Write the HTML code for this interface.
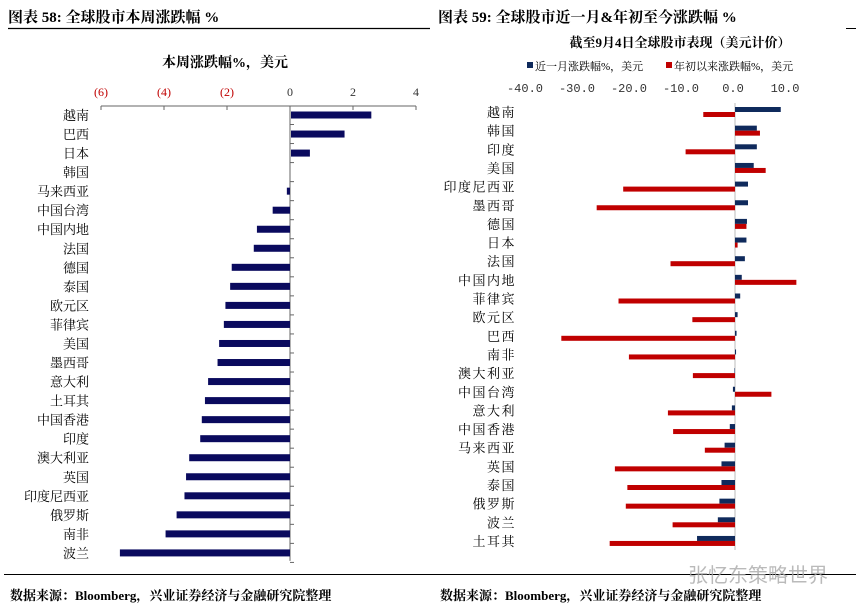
<!DOCTYPE html>
<html><head><meta charset="utf-8"><style>
body{margin:0;background:#fff;}
svg{display:block;font-family:"Liberation Serif","Noto Serif CJK SC",serif;}
</style></head><body>
<svg id="s" width="861" height="611" viewBox="0 0 861 611">
<text x="8" y="22" font-size="15" font-weight="bold">图表 58:  全球股市本周涨跌幅  %</text>
<line x1="8" y1="28.5" x2="430" y2="28.5" stroke="#000" stroke-width="1.2"/>
<text x="438" y="22" font-size="15" font-weight="bold">图表 59:  全球股市近一月&amp;年初至今涨跌幅  %</text>
<line x1="846" y1="28.5" x2="856" y2="28.5" stroke="#000"/>
<text x="225" y="67" font-size="14" font-weight="bold" text-anchor="middle">本周涨跌幅%，美元</text>
<text x="680" y="47" font-size="13" font-weight="bold" text-anchor="middle">截至9月4日全球股市表现（美元计价）</text>
<rect x="527" y="62" width="6" height="6" fill="#0f2a5c"/>
<text x="535" y="70" font-size="11">近一月涨跌幅%，美元</text>
<rect x="666" y="62" width="6" height="6" fill="#c00000"/>
<text x="674" y="70" font-size="11">年初以来涨跌幅%，美元</text>
<line x1="4" y1="574.5" x2="856" y2="574.5" stroke="#000" stroke-width="1"/>
<text x="10" y="600" font-size="13" font-weight="bold">数据来源：Bloomberg，兴业证券经济与金融研究院整理</text>
<text x="440" y="600" font-size="13" font-weight="bold">数据来源：Bloomberg，兴业证券经济与金融研究院整理</text>
<text x="688" y="582" font-size="20" fill="#aaa" opacity="0.8" font-family="'Noto Sans CJK SC',sans-serif">张忆东策略世界</text>
<g id="L"></g><g id="R"></g>
</svg>
<script>
const leftCats=["越南","巴西","日本","韩国","马来西亚","中国台湾","中国内地","法国","德国","泰国","欧元区","菲律宾","美国","墨西哥","意大利","土耳其","中国香港","印度","澳大利亚","英国","印度尼西亚","俄罗斯","南非","波兰"];
const leftVals=[2.55,1.7,0.6,0,-0.1,-0.55,-1.05,-1.15,-1.85,-1.9,-2.05,-2.1,-2.25,-2.3,-2.6,-2.7,-2.8,-2.85,-3.2,-3.3,-3.35,-3.6,-3.95,-5.4];
const leftTicks=[-6,-4,-2,0,2,4];
const rightCats=["越南","韩国","印度","美国","印度尼西亚","墨西哥","德国","日本","法国","中国内地","菲律宾","欧元区","巴西","南非","澳大利亚","中国台湾","意大利","中国香港","马来西亚","英国","泰国","俄罗斯","波兰","土耳其"];
const monthVals=[8.8,4.2,4.2,3.6,2.5,2.5,2.3,2.2,1.9,1.3,1.0,0.5,0.3,0.2,-0.1,-0.4,-0.6,-1.0,-2.0,-2.6,-2.6,-3.0,-3.3,-7.3];
const ytdVals=[-6.1,4.8,-9.5,5.9,-21.5,-26.6,2.2,0.5,-12.4,11.8,-22.4,-8.2,-33.4,-20.4,-8.1,7.0,-12.9,-11.9,-5.8,-23.1,-20.7,-21.0,-12.0,-24.1];
const rightTicks=[-40,-30,-20,-10,0,10];
const NS="http://www.w3.org/2000/svg";
function mk(p,t,a){const e=document.createElementNS(NS,t);for(const k in a)e.setAttribute(k,a[k]);p.appendChild(e);return e;}
const L=document.getElementById('L');
const lx=v=>290+v*31.5, ly=i=>115+i*19.04;
mk(L,'line',{x1:lx(-6),y1:106,x2:lx(4),y2:106,stroke:'#666'});
mk(L,'line',{x1:lx(0),y1:106,x2:lx(0),y2:ly(23)+8,stroke:'#666'});
leftTicks.forEach(t=>{
 const ln=mk(L,'line',{x1:lx(t),y1:106,x2:lx(t),y2:110,stroke:'#666'});
 
 
 const tx=mk(L,'text',{x:lx(t),y:96,'font-size':12,'text-anchor':'middle',fill:t<0?'#c00000':'#333'});
 tx.textContent=t<0?'('+(-t)+')':String(t);
 
 
});
leftCats.forEach((c,i)=>{
 const y=ly(i);
 mk(L,'line',{x1:lx(0),y1:y+9.5,x2:lx(0)+4,y2:y+9.5,stroke:'#666'});
 const tx=mk(L,'text',{x:89,y:y+5,'font-size':13,'text-anchor':'end'});
 tx.textContent=c;
 
 
 const v=leftVals[i];
 const r=mk(L,'rect',{x:Math.min(lx(0),lx(v))+(v>0?1:0),y:y-3.5,width:Math.abs(lx(v)-lx(0)),height:7,fill:'#0a0a5e'});
 
 
});
const R=document.getElementById('R');
const rx=v=>735+v*5.2, ry=i=>112+i*18.65;
mk(R,'line',{x1:rx(0),y1:103,x2:rx(0),y2:550,stroke:'#bbb'});
rightTicks.forEach(t=>{
 const tx=mk(R,'text',{x:rx(t)-2,y:92,'font-size':12,'text-anchor':'middle','font-family':"'Liberation Mono',monospace",fill:'#333'});
 tx.textContent=t.toFixed(1);
 
 
});
rightCats.forEach((c,i)=>{
 const y=ry(i);
 const tx=mk(R,'text',{x:516,y:y+5,'font-size':13,'text-anchor':'end','letter-spacing':'1.5'});
 tx.textContent=c;
 
 
 const m=monthVals[i], a=ytdVals[i];
 const b1=mk(R,'rect',{x:Math.min(rx(0),rx(m)),y:y-5,width:Math.abs(rx(m)-rx(0)),height:5,fill:'#0f2a5c'});
 
 
 const b2=mk(R,'rect',{x:Math.min(rx(0),rx(a)),y:y,width:Math.abs(rx(a)-rx(0)),height:5,fill:'#c00000'});
 
 
});
</script>
</body></html>
